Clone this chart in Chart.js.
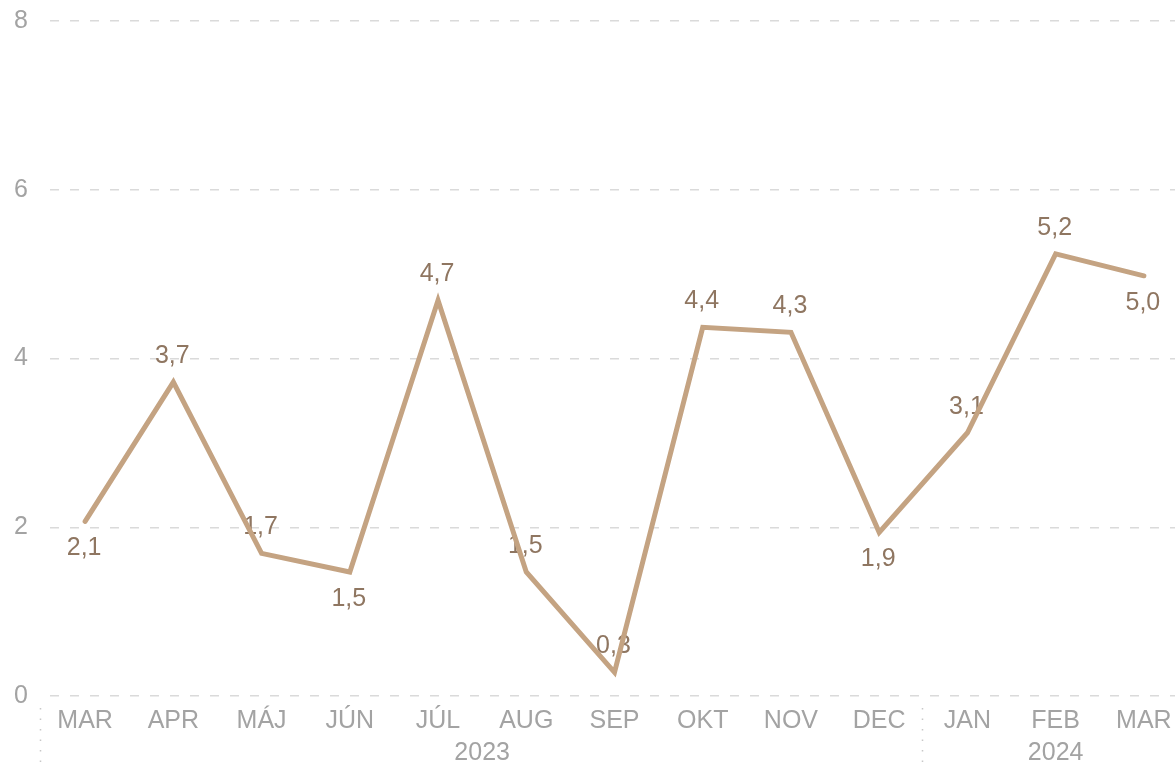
<!DOCTYPE html>
<html>
<head>
<meta charset="utf-8">
<script src="https://cdn.jsdelivr.net/npm/chart.js@4"></script>
<style>
  html, body { margin: 0; padding: 0; background: #fff; overflow: hidden; }
  #wrap { position: absolute; left: 0; top: 0; width: 1188px; height: 766px; }
</style>
</head>
<body>
<div id="wrap"><canvas id="chart"></canvas></div>
<script>
const months = ['MAR', 'APR', 'MÁJ', 'JÚN', 'JÚL', 'AUG', 'SEP', 'OKT', 'NOV', 'DEC', 'JAN', 'FEB', 'MAR'];
const values = [2.07, 3.72, 1.69, 1.47, 4.69, 1.47, 0.28, 4.37, 4.31, 1.94, 3.12, 5.24, 4.98];
const labelSide = ['below', 'above', 'above', 'below', 'above', 'above', 'above', 'above', 'above', 'below', 'above', 'above', 'below'];
const years = ['2023', '2024'];
const yearStart = [0, 10];
const yTicks = [0, 2, 4, 6, 8];

const FONT = '"Liberation Sans", Arial, Helvetica, sans-serif';

// data labels with comma decimals, drawn under the line
const valueLabels = {
  id: 'valueLabels',
  beforeDatasetsDraw(chart) {
    const ctx = chart.ctx;
    const meta = chart.getDatasetMeta(0);
    ctx.save();
    ctx.font = '25px ' + FONT;
    ctx.fillStyle = '#8f7661';
    ctx.textAlign = 'center';
    ctx.textBaseline = 'middle';
    meta.data.forEach((pt, i) => {
      const txt = values[i].toFixed(1).replace('.', ',');
      const dy = labelSide[i] === 'above' ? -26 : 27;
      ctx.fillText(txt, pt.x - 1, pt.y + dy);
    });
    ctx.restore();
  }
};

// year row and dotted group separators
const yearGroups = {
  id: 'yearGroups',
  afterDraw(chart) {
    const ctx = chart.ctx;
    const x = chart.scales.x;
    const area = chart.chartArea;
    const half = (x.getPixelForValue(1) - x.getPixelForValue(0)) / 2;
    ctx.save();
    years.forEach((yr, g) => {
      const first = yearStart[g];
      const last = g + 1 < yearStart.length ? yearStart[g + 1] - 1 : months.length - 1;
      const left = x.getPixelForValue(first) - half;
      const right = x.getPixelForValue(last) + half;
      ctx.strokeStyle = '#c8c8c8';
      ctx.lineWidth = 1.5;
      ctx.setLineDash([1.5, 9]);
      ctx.beginPath();
      ctx.moveTo(Math.round(left) - 0.5, area.bottom + 12);
      ctx.lineTo(Math.round(left) - 0.5, chart.height);
      ctx.stroke();
      ctx.setLineDash([]);
      ctx.font = '25px ' + FONT;
      ctx.fillStyle = '#a3a3a3';
      ctx.textAlign = 'center';
      ctx.textBaseline = 'middle';
      ctx.fillText(yr, (left + right) / 2, area.bottom + 57);
    });
    ctx.restore();
  }
};

new Chart(document.getElementById('chart'), {
  type: 'line',
  data: {
    labels: months,
    datasets: [{
      data: values,
      borderColor: '#c4a382',
      borderWidth: 5,
      pointRadius: 0,
      tension: 0,
      borderCapStyle: 'round',
      borderJoinStyle: 'miter',
      fill: false
    }]
  },
  options: {
    responsive: true,
    maintainAspectRatio: false,
    animation: false,
    layout: { padding: { top: 21, right: 0, left: 0, bottom: 0 } },
    plugins: {
      legend: { display: false },
      tooltip: { enabled: false }
    },
    scales: {
      x: {
        offset: true,
        grid: { display: false },
        border: { display: false },
        ticks: {
          color: '#a3a3a3',
          font: { family: FONT, size: 25 },
          padding: 2,
          maxRotation: 0,
          autoSkip: false
        },
        afterFit(scale) { scale.height = 70; }
      },
      y: {
        min: 0,
        max: 8,
        afterBuildTicks(scale) { scale.ticks = yTicks.map(v => ({ value: v })); },
        grid: {
          color: '#dadada',
          lineWidth: 1.5,
          drawTicks: false
        },
        border: { display: false, dash: [9, 11], dashOffset: 11 },
        ticks: {
          color: '#a3a3a3',
          font: { family: FONT, size: 25, lineHeight: 1 },
          padding: 13
        },
        afterFit(scale) {
          scale.width = 41;
          scale.paddingTop = 0;
          scale.paddingBottom = 0;
        }
      }
    }
  },
  plugins: [valueLabels, yearGroups]
});
</script>
</body>
</html>
